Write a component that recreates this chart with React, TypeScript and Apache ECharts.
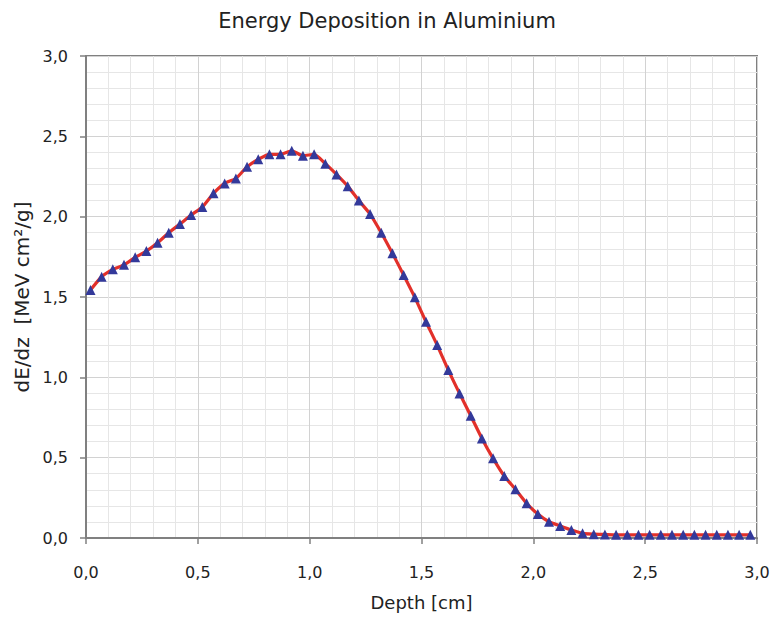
import React, { useEffect, useRef } from "react";
import * as echarts from "echarts";

const depthStart = 0.02;
const depthStep = 0.05;
const dEdz: number[] = [
  1.543, 1.626, 1.672, 1.70, 1.747, 1.786, 1.838, 1.90, 1.954, 2.01,
  2.06, 2.145, 2.207, 2.238, 2.31, 2.357, 2.388, 2.388, 2.41, 2.379,
  2.388, 2.33, 2.263, 2.19, 2.10, 2.016, 1.90, 1.772, 1.637, 1.498,
  1.346, 1.201, 1.045, 0.90, 0.761, 0.62, 0.496, 0.386, 0.303, 0.216,
  0.149, 0.101, 0.075, 0.05, 0.029, 0.024, 0.022, 0.02, 0.02, 0.02,
  0.02, 0.02, 0.02, 0.02, 0.02, 0.02, 0.02, 0.02, 0.02, 0.02,
];
const depths: number[] = dEdz.map((_, i) => +(depthStart + i * depthStep).toFixed(3));

const title = "Energy Deposition in Aluminium";
const xName = "Depth [cm]";
const yName = "dE/dz  [MeV cm²/g]";

const fmt = (v: number) => v.toFixed(1).replace(".", ",");

export default function App() {
  const ref = useRef<HTMLDivElement>(null);
  useEffect(() => {
    if (!ref.current) return;
    const chart = echarts.init(ref.current, null, { renderer: "svg" });
    const font = "'DejaVu Sans', sans-serif";
    const axisCommon = {
      min: 0,
      max: 3,
      interval: 0.5,
      axisLine: { show: true, onZero: false, lineStyle: { color: "#808080", width: 2 } },
      axisTick: { show: true, length: 6, lineStyle: { color: "#808080", width: 1.5 } },
      axisLabel: { color: "#222", fontSize: 16, fontFamily: font, formatter: fmt },
      splitLine: { show: true, lineStyle: { color: "#d2d2d2", width: 1 } },
      minorTick: { show: false, splitNumber: 5 },
      minorSplitLine: { show: true, lineStyle: { color: "#e6e6e6", width: 1 } },
      nameTextStyle: { color: "#222", fontSize: 18, fontFamily: font },
    };
    chart.setOption({
      animation: false,
      backgroundColor: "#ffffff",
      title: {
        text: title,
        left: "center",
        top: 5,
        textStyle: { color: "#222", fontSize: 21, fontWeight: "normal", fontFamily: font },
      },
      grid: {
        left: 86,
        right: 17,
        top: 56,
        bottom: 81,
        show: true,
        borderColor: "#808080",
        borderWidth: 2,
      },
      xAxis: {
        ...axisCommon,
        type: "value",
        name: xName,
        nameLocation: "middle",
        nameGap: 55,
        axisLabel: { ...axisCommon.axisLabel, margin: 26 },
      },
      yAxis: {
        ...axisCommon,
        type: "value",
        name: yName,
        nameLocation: "middle",
        nameGap: 52,
        nameTextStyle: { ...axisCommon.nameTextStyle, fontSize: 20 },
        axisLabel: { ...axisCommon.axisLabel, margin: 18 },
      },
      series: [
        {
          type: "line",
          data: depths.map((d, i) => [d, dEdz[i]]),
          smooth: 0.2,
          symbol: "triangle",
          symbolSize: 10,
          showAllSymbol: true,
          lineStyle: { color: "#e2302a", width: 3.2 },
          itemStyle: { color: "#33399a" },
          clip: false,
        },
      ],
    });
    return () => chart.dispose();
  }, []);
  return <div ref={ref} style={{ width: 774, height: 619, position: "absolute", left: 0, top: 0 }} />;
}
